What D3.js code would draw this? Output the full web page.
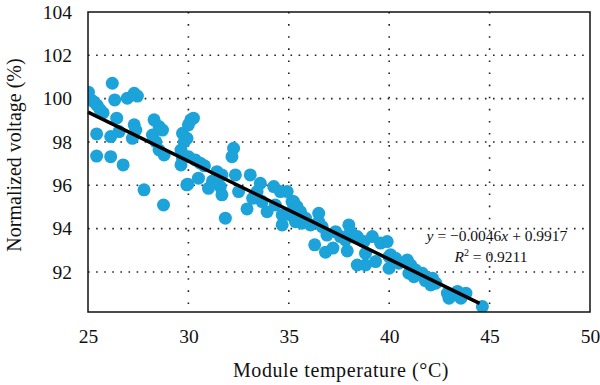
<!DOCTYPE html>
<html>
<head>
<meta charset="utf-8">
<script src="https://cdn.jsdelivr.net/npm/d3@7"></script>
<style>
  body { margin: 0; background: #fff; }
  svg text { fill: #111; }
</style>
</head>
<body>
<div id="vis"></div>
<script>
// Setup ---------------------------------------------------------------------

var margin = {top: 12, right: 10, bottom: 73, left: 88},
    width = 600 - margin.left - margin.right,
    height = 385 - margin.top - margin.bottom;

var serif = "'Liberation Serif', 'Times New Roman', 'DejaVu Serif', serif";

var xTicks = [25, 30, 35, 40, 45, 50],
    yTicks = [92, 94, 96, 98, 100, 102, 104];

// measured points (module temperature in °C, normalized voltage in %)
var tempC = [
  25.02, 25.15, 25.3, 25.45, 25.6, 25.75, 26.21, 26.33, 26.96, 27.3, 27.46,
  26.43, 25.43, 26.13, 26.55, 27.3, 27.38, 27.21, 28.29, 28.54, 28.71,
  28.21, 28.38, 28.54, 28.79, 25.43, 26.13, 26.75, 27.79, 28.76,
  29.71, 29.79, 29.63, 29.71, 29.63, 30.12, 29.92,
  30.25, 30.0, 29.93, 32.25, 32.17, 30.0, 30.34, 30.59, 30.5, 29.97,
  31.0, 31.42, 31.67, 31.59, 31.67, 32.34, 32.5, 33.08, 33.58, 33.42,
  31.84, 32.92, 33.67, 33.92, 34.25, 34.58, 34.33, 34.67, 34.67, 35.16, 35.24,
  34.92, 35.24, 35.41, 35.08, 35.58, 35.66, 35.33,
  35.83, 36.08, 36.49, 36.49, 36.66, 36.29, 36.83,
  37.33, 37.57, 37.99, 38.07, 37.82, 37.91,
  38.41, 38.74, 39.16, 39.57, 38.82, 38.41, 38.82, 39.32, 39.99, 39.99,
  39.9, 40.07, 40.32, 40.48, 40.9, 41.07, 40.98, 41.23, 41.32, 41.65,
  42.15, 42.32, 42.07, 42.9, 42.98, 43.4, 43.82, 43.57, 44.64,
  30.8, 31.2, 33.2, 36.9, 37.2, 41.8
];

var voltage = [
  100.3, 99.95, 99.85, 99.7, 99.5, 99.35, 100.71, 99.94, 100.02, 100.25, 100.12,
  99.1, 98.37, 98.25, 98.48, 98.79, 98.55, 98.17, 99.02, 98.71, 98.55,
  98.32, 98.01, 97.63, 97.4, 97.35, 97.32, 96.94, 95.79, 95.09,
  98.4, 98.01, 97.63, 97.25, 96.94, 99.02, 96.02,
  99.1, 98.79, 98.17, 97.71, 97.32, 97.32, 97.17, 97.02, 96.33, 96.05,
  95.86, 96.63, 96.48, 95.94, 95.56, 96.48, 95.71, 96.48, 96.09, 95.71,
  94.48, 94.91, 95.25, 94.78, 95.94, 95.71, 95.09, 94.63, 94.17, 95.25, 94.94,
  95.71, 95.25, 95.02, 94.63, 94.78, 94.25, 94.32,
  94.48, 94.17, 94.71, 94.32, 94.09, 93.25, 92.91,
  93.86, 93.63, 94.17, 93.86, 93.48, 92.97,
  93.63, 93.4, 93.63, 93.33, 92.86, 92.32, 92.32, 92.48, 92.71, 92.17,
  93.4, 92.79, 92.63, 92.4, 92.55, 92.32, 91.94, 91.78, 92.09, 91.94,
  91.71, 91.48, 91.4, 91.02, 90.79, 91.1, 91.02, 90.79, 90.4,
  96.9, 96.2, 95.4, 93.7, 93.1, 91.6
];

// fitted trend line end points
var fitX = [25, 44.5],
    fitY = [99.38, 90.55];

var fitLabel = "= \u22120.0046",
    r2Label = "= 0.9211";

// Scales --------------------------------------------------------------------

var x = d3.scaleLinear().domain([25, 50]).range([0, width]);
var y = d3.scaleLinear().domain([90.15, 104]).range([height, 0]);

var svg = d3.select("#vis").append("svg")
  .attr("width", 600)
  .attr("height", 385)
  .attr("font-family", serif);

var plot = svg.append("g")
  .attr("transform", "translate(" + margin.left + "," + margin.top + ")");

// Grid ----------------------------------------------------------------------

plot.append("g")
  .selectAll("line")
  .data(yTicks.filter(function(d) { return d < 104; }))
  .enter().append("line")
    .attr("x1", 0)
    .attr("x2", width)
    .attr("y1", function(d) { return y(d); })
    .attr("y2", function(d) { return y(d); })
    .attr("stroke", "#222")
    .attr("stroke-width", 1.6)
    .attr("stroke-dasharray", "1.6,6.5");

plot.append("g")
  .selectAll("line")
  .data(xTicks.filter(function(d) { return d > 25 && d < 50; }))
  .enter().append("line")
    .attr("x1", function(d) { return x(d); })
    .attr("x2", function(d) { return x(d); })
    .attr("y1", 0)
    .attr("y2", height)
    .attr("stroke", "#222")
    .attr("stroke-width", 1.6)
    .attr("stroke-dasharray", "1.6,10.5");

// Points and fit ------------------------------------------------------------

plot.append("defs").append("clipPath")
  .attr("id", "clip")
  .append("rect")
    .attr("width", width)
    .attr("height", height);

plot.append("g")
  .attr("clip-path", "url(#clip)")
  .selectAll("circle")
  .data(d3.range(tempC.length))
  .enter().append("circle")
    .attr("cx", function(i) { return x(tempC[i]); })
    .attr("cy", function(i) { return y(voltage[i]); })
    .attr("r", 6.5)
    .attr("fill", "#1ba3da");

plot.append("line")
  .attr("x1", x(fitX[0]))
  .attr("y1", y(fitY[0]))
  .attr("x2", x(fitX[1]))
  .attr("y2", y(fitY[1]))
  .attr("stroke", "#000")
  .attr("stroke-width", 3.5);

// Frame and axes ------------------------------------------------------------

plot.append("rect")
  .attr("width", width)
  .attr("height", height)
  .attr("fill", "none")
  .attr("stroke", "#111")
  .attr("stroke-width", 1.5);

var xAxis = plot.append("g")
  .attr("transform", "translate(0," + height + ")")
  .call(d3.axisBottom(x).tickValues(xTicks).tickSize(0).tickPadding(17));

var yAxis = plot.append("g")
  .call(d3.axisLeft(y).tickValues(yTicks).tickSize(0).tickPadding(16));

[xAxis, yAxis].forEach(function(a) {
  a.attr("font-family", serif).attr("font-size", 19.5);
  a.select(".domain").remove();
  a.selectAll("text").attr("fill", "#111");
});

svg.append("text")
  .attr("x", 341)
  .attr("y", 377)
  .attr("text-anchor", "middle")
  .attr("font-size", 20)
  .attr("letter-spacing", 0.6)
  .text("Module temperature (\u00B0C)");

svg.append("text")
  .attr("transform", "translate(21,155) rotate(-90)")
  .attr("text-anchor", "middle")
  .attr("font-size", 20)
  .text("Normalized voltage (%)");

// Regression label ----------------------------------------------------------

var eq = svg.append("text")
  .attr("x", 497)
  .attr("y", 241)
  .attr("text-anchor", "middle")
  .attr("font-size", 15.5);
eq.append("tspan").style("font-style", "italic").text("y");
eq.append("tspan").text(" " + fitLabel);
eq.append("tspan").style("font-style", "italic").text("x");
eq.append("tspan").text(" + 0.9917");

var r2 = svg.append("text")
  .attr("x", 491)
  .attr("y", 262)
  .attr("text-anchor", "middle")
  .attr("font-size", 15.5);
r2.append("tspan").style("font-style", "italic").text("R");
r2.append("tspan").attr("dy", -6).attr("font-size", 10).text("2");
r2.append("tspan").attr("dy", 6).text(" " + r2Label);
</script>
</body>
</html>
